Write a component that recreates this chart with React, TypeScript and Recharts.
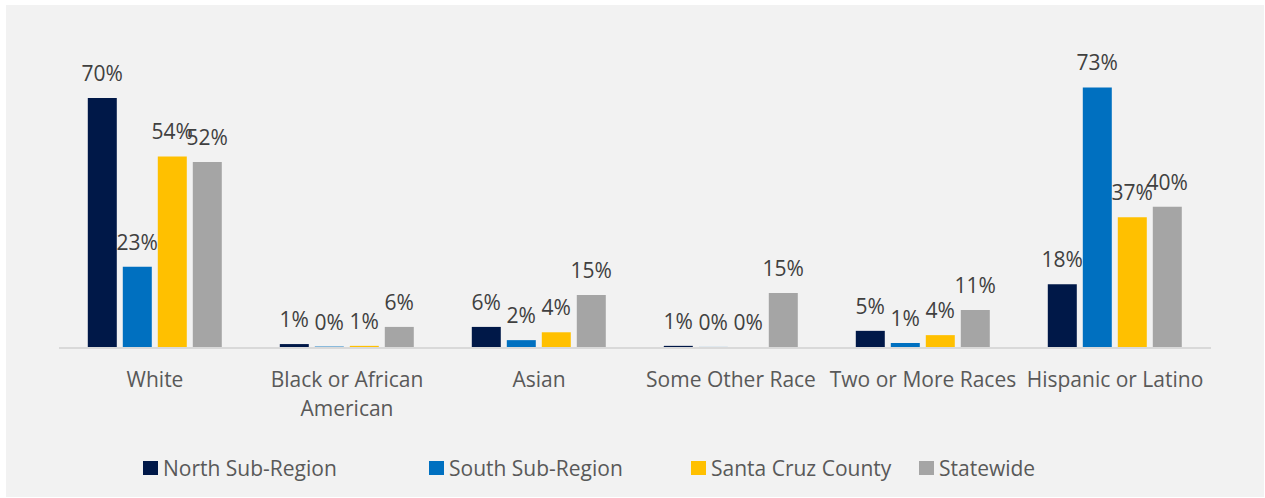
import React from "react";
import { BarChart, Bar, XAxis, YAxis, LabelList } from "recharts";

const categories = [
  "White",
  "Black or African American",
  "Asian",
  "Some Other Race",
  "Two or More Races",
  "Hispanic or Latino",
];
const seriesNames = ["North Sub-Region", "South Sub-Region", "Santa Cruz County", "Statewide"];
const seriesColors = ["#001848", "#0070C0", "#FFC000", "#A5A5A5"];
const north = [69.9, 1.1, 5.9, 0.6, 4.8, 17.8];
const south = [22.7, 0.4, 2.2, 0.3, 1.4, 72.9];
const santaCruz = [53.6, 0.6, 4.4, 0.2, 3.6, 36.6];
const statewide = [52.0, 5.9, 14.8, 15.4, 10.6, 39.5];

const seriesValues = [north, south, santaCruz, statewide];
const keys = ["north", "south", "santaCruz", "statewide"];

const data = categories.map((c, i) => {
  const row: any = { category: c };
  keys.forEach((k, j) => {
    row[k] = seriesValues[j][i];
  });
  return row;
});

const FONT = "'Open Sans', sans-serif";
const legendItemWidths = [286, 262, 228, 120];

function wrap(text: string, limit: number): string[] {
  const words = text.split(" ");
  const lines: string[] = [];
  let cur = "";
  for (const w of words) {
    const next = cur ? cur + " " + w : w;
    if (next.length > limit && cur) {
      lines.push(cur);
      cur = w;
    } else {
      cur = next;
    }
  }
  if (cur) lines.push(cur);
  return lines;
}

const CategoryTick = (props: any) => {
  const { x, y, payload } = props;
  const lines = wrap(String(payload.value), 18);
  return (
    <text
      x={x}
      y={y}
      textAnchor="middle"
      fill="#595959"
      fontFamily={FONT}
      fontSize={21}
    >
      {lines.map((l, i) => (
        <tspan key={i} x={x} y={y + 39 + i * 29}>
          {l}
        </tspan>
      ))}
    </text>
  );
};

const fmt = (v: any) => `${Math.round(Number(v))}%`;

export default function App() {
  return (
    <div
      style={{
        position: "absolute",
        left: 6,
        top: 5,
        width: 1258,
        height: 492,
        background: "#F2F2F2",
      }}
    >
      <BarChart
        width={1258}
        height={492}
        data={data}
        margin={{ top: 57, right: 53, left: 53, bottom: 0 }}
        barCategoryGap="15%"
        barGap={6}
      >
        <XAxis
          dataKey="category"
          height={149}
          tickSize={0}
          tickMargin={0}
          tickLine={false}
          axisLine={{ stroke: "#D9D9D9", strokeWidth: 2 }}
          tick={<CategoryTick />}
          interval={0}
        />
        <YAxis hide domain={[0, 80]} />
        {keys.map((k, j) => (
          <Bar
            key={k}
            dataKey={k}
            name={seriesNames[j]}
            fill={seriesColors[j]}
            isAnimationActive={false}
          >
            <LabelList
              dataKey={k}
              position="top"
              offset={17}
              formatter={fmt}
              fill="#404040"
              fontFamily={FONT}
              fontSize={21}
            />
          </Bar>
        ))}
      </BarChart>
      <div
        style={{
          position: "absolute",
          left: 137,
          top: 449,
          display: "flex",
          alignItems: "center",
          fontFamily: FONT,
          fontSize: 21,
          color: "#595959",
          whiteSpace: "nowrap",
        }}
      >
        {seriesNames.map((n, j) => (
          <div
            key={n}
            style={{ display: "flex", alignItems: "center", width: legendItemWidths[j] }}
          >
            <span
              style={{
                display: "inline-block",
                width: 15,
                height: 14,
                background: seriesColors[j],
                marginRight: 5,
              }}
            />
            <span>{n}</span>
          </div>
        ))}
      </div>
    </div>
  );
}
